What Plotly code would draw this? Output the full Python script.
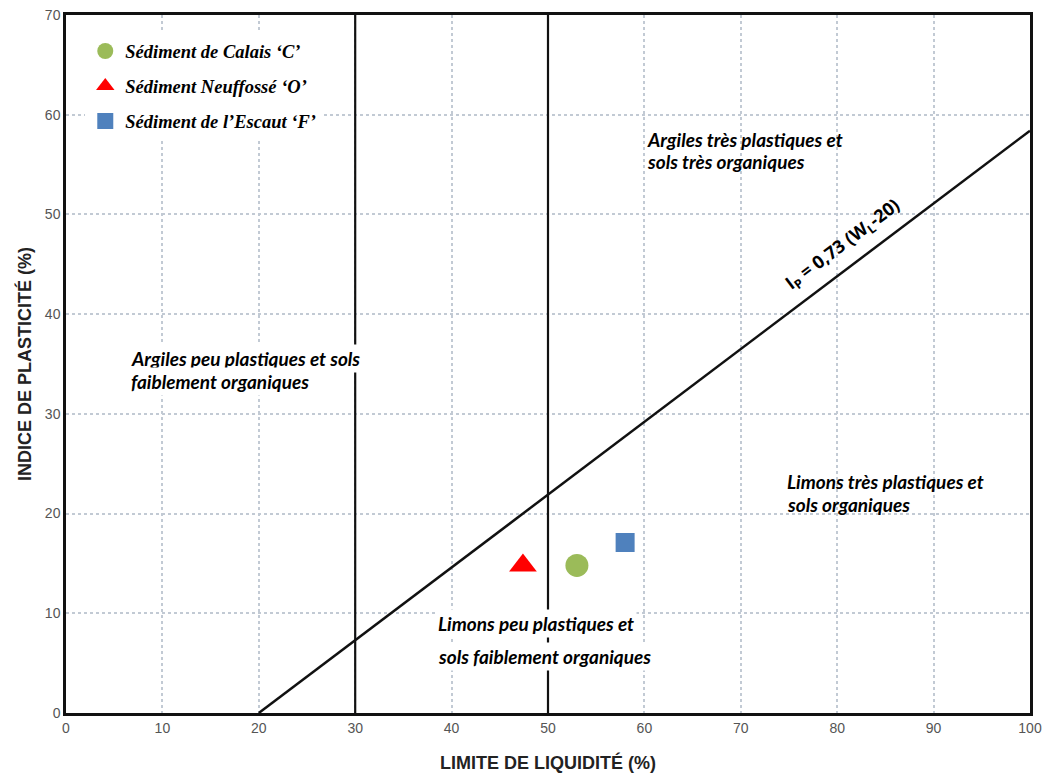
import plotly.graph_objects as go

# ---- data ----
sample_names = ["Sédiment de Calais ‘C’", "Sédiment Neuffossé ‘O’", "Sédiment de l’Escaut ‘F’"]
sample_wl = [53.0, 47.4, 58.0]
sample_ip = [14.8, 14.8, 17.1]
sample_colors = ["#9BBB59", "#FF0000", "#4F81BD"]
sample_symbols = ["circle", "triangle-up", "square"]
sample_sizes = [23, 24, 19]

a_line_wl = [20, 100]
a_line_ip = [0, 58.4]

limit_30_x = [30, 30]
limit_50_x = [50, 50]
limit_y = [0, 70]

zone_labels = [
    "Argiles très plastiques et", "sols très organiques",
    "Argiles peu plastiques et sols", "faiblement organiques",
    "Limons très plastiques et", "sols organiques",
    "Limons peu plastiques et", "sols faiblement organiques",
]
zone_x = [60.0, 60.0, 6.4, 6.4, 74.5, 74.5, 38.3, 38.3]
zone_y = [57.5, 55.3, 35.6, 33.2, 23.2, 20.9, 9.0, 5.7]
zone_bg = [False, False, True, True, False, False, True, True]

fig = go.Figure()

for xs in (limit_30_x, limit_50_x):
    fig.add_trace(go.Scatter(x=xs, y=limit_y, mode="lines",
                             line=dict(color="#111", width=2.2),
                             showlegend=False, hoverinfo="skip"))
fig.add_trace(go.Scatter(x=a_line_wl, y=a_line_ip, mode="lines",
                         line=dict(color="#111", width=2.5),
                         showlegend=False, hoverinfo="skip"))

for i in range(3):
    fig.add_trace(go.Scatter(
        x=[sample_wl[i]], y=[sample_ip[i]], mode="markers",
        name=sample_names[i], legendgroup=f"g{i}",
        marker=dict(color=sample_colors[i], symbol=sample_symbols[i], size=sample_sizes[i],
                    line=dict(width=0))))

for t, x, y, bg in zip(zone_labels, zone_x, zone_y, zone_bg):
    fig.add_annotation(x=x, y=y, text=t, showarrow=False, xanchor="left", yanchor="middle",
                       font=dict(family="Lato", size=19, color="#000", weight="bold", style="italic"),
                       bgcolor="white" if bg else None, borderpad=2)

fig.add_annotation(x=80.6, y=47.0, text="I<sub>P</sub> = 0,73 (W<sub>L</sub>-20)", showarrow=False,
                   textangle=-37, font=dict(family="Open Sans", size=18, color="#000", weight="bold"))

axis_common = dict(showgrid=True, gridcolor="#c2cad4", griddash="dot", gridwidth=1.5,
                   zeroline=False, showline=True, linecolor="#111", linewidth=2.5, mirror=True,
                   automargin=False,
                   ticks="", tickfont=dict(family="Arial", size=14, color="#555"))

fig.update_xaxes(range=[0, 100], dtick=10, **axis_common,
                 title=dict(text="LIMITE DE LIQUIDITÉ (%)", standoff=22,
                            font=dict(family="Arial", size=18, color="#222", weight="bold")))
fig.update_yaxes(range=[0, 70], dtick=10, **axis_common,
                 title=dict(text="INDICE DE PLASTICITÉ (%)", standoff=9,
                            font=dict(family="Arial", size=18, color="#222", weight="bold")))

fig.update_layout(
    width=1044, height=773,
    margin=dict(l=66, r=14, t=15, b=60),
    plot_bgcolor="white", paper_bgcolor="white",
    legend=dict(x=0.02, y=0.975, xanchor="left", yanchor="top", bgcolor="white",
                traceorder="grouped", tracegroupgap=8,
                font=dict(family="Liberation Serif", size=18.5, color="#000", weight="bold", style="italic")),
)

fig.write_html("out.html", config={"displayModeBar": False},
               post_script="document.body.style.margin='0';document.body.style.overflow='hidden';")
